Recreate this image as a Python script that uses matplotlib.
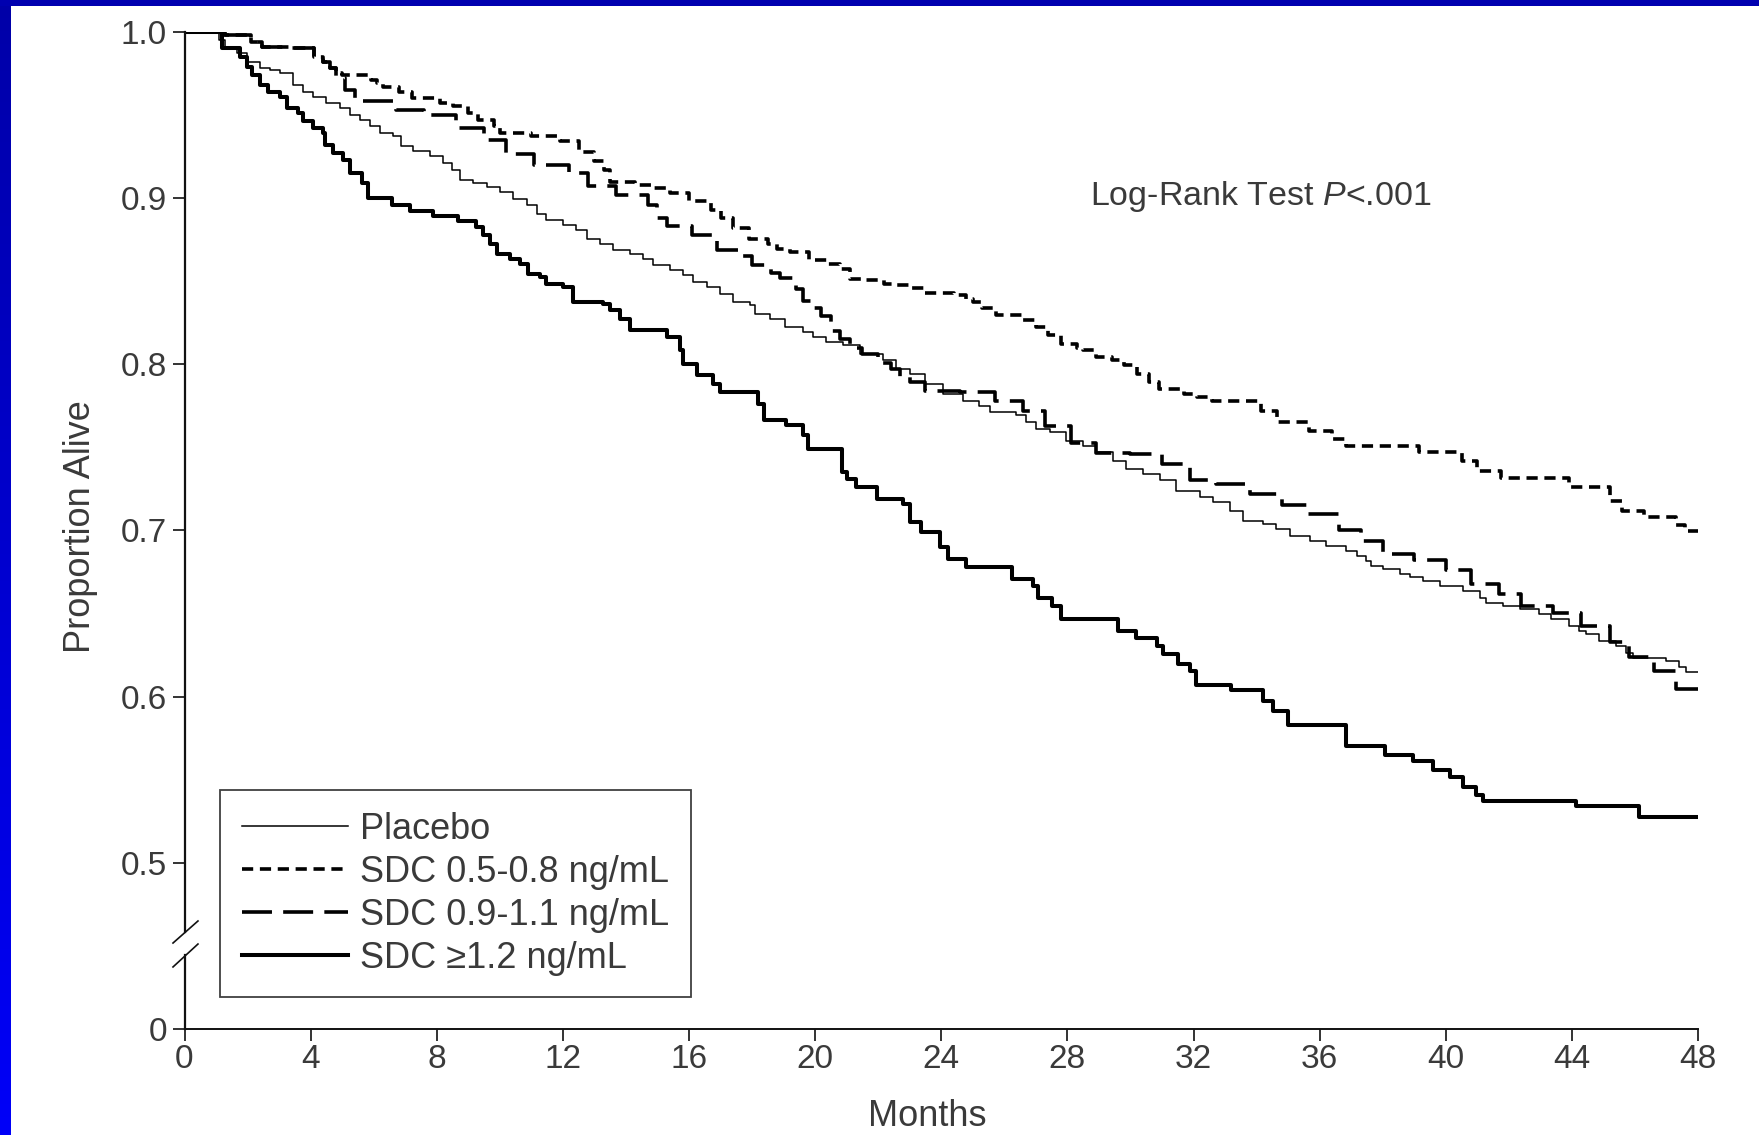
import numpy as np
import matplotlib
matplotlib.use("Agg")
import matplotlib.pyplot as plt
from matplotlib.lines import Line2D
from matplotlib.colors import LinearSegmentedColormap

plt.rcParams['font.family'] = ['Liberation Sans', 'DejaVu Sans']
plt.rcParams['mathtext.fontset'] = 'custom'
plt.rcParams['mathtext.rm'] = 'Liberation Sans'
plt.rcParams['mathtext.it'] = 'Liberation Sans:italic'

# Kaplan-Meier step data: month at which each level starts, proportion alive
placebo_t = [0, 1.1, 1.3, 1.65, 1.97, 2.39, 2.71, 3.03, 3.45, 3.77, 4.08, 4.5, 4.93, 5.25,
             5.56, 5.88, 6.2, 6.62, 6.88, 7.25, 7.78, 8.2, 8.47, 8.74, 9.16, 9.58, 10.0,
             10.43, 10.85, 11.17, 11.48, 12.01, 12.43, 12.75, 13.17, 13.6, 14.13, 14.55,
             14.87, 15.4, 15.82, 16.13, 16.56, 16.98, 17.4, 17.93, 18.09, 18.57, 19.04,
             19.62, 19.94, 20.36, 20.89, 21.42, 22.16, 22.58, 23.0, 23.5, 24.06, 24.7,
             25.2, 25.54, 26.38, 26.7, 27.02, 27.44, 27.97, 28.5, 28.92, 29.45, 29.87,
             30.4, 30.93, 31.46, 32.2, 32.62, 33.15, 33.57, 34.2, 34.63, 35.05, 35.69,
             36.21, 36.85, 37.17, 37.48, 37.64, 38.0, 38.54, 38.86, 39.28, 39.81, 40.55,
             41.08, 41.29, 41.81, 42.34, 42.97, 43.34, 43.92, 44.24, 44.45, 44.87, 45.4,
             45.72, 45.93, 46.99, 47.41, 47.62, 48.0]
placebo_s = [1.0, 0.995, 0.99, 0.987, 0.982, 0.978, 0.977, 0.975, 0.968, 0.964, 0.961, 0.957,
             0.954, 0.95, 0.947, 0.943, 0.939, 0.937, 0.931, 0.928, 0.925, 0.921, 0.9167,
             0.9107, 0.9087, 0.9066, 0.9036, 0.8996, 0.8956, 0.8906, 0.8866, 0.8836, 0.8805,
             0.8755, 0.8725, 0.8685, 0.8665, 0.8635, 0.8595, 0.8565, 0.8534, 0.8494, 0.8464,
             0.8424, 0.8373, 0.8354, 0.8304, 0.8273, 0.8223, 0.8193, 0.8163, 0.8133, 0.8113,
             0.8063, 0.8022, 0.7972, 0.7942, 0.7882, 0.7822, 0.7781, 0.7746, 0.7711, 0.7691,
             0.7651, 0.7611, 0.759, 0.754, 0.751, 0.747, 0.742, 0.737, 0.734, 0.73, 0.7239,
             0.7199, 0.7169, 0.7119, 0.7058, 0.7039, 0.7008, 0.6968, 0.6938, 0.6908, 0.6878,
             0.6848, 0.6817, 0.6787, 0.6767, 0.6737, 0.6717, 0.6697, 0.6667, 0.6637, 0.659,
             0.656, 0.6546, 0.6527, 0.6496, 0.6466, 0.6426, 0.6396, 0.6376, 0.6335, 0.6305,
             0.6265, 0.6235, 0.6215, 0.6175, 0.6145, 0.6145]

low_t = [0, 1.3, 2.1, 2.45, 3.4, 4.1, 4.4, 4.6, 4.8, 5.0, 5.9, 6.1, 6.3, 6.8, 7.2, 8.1, 8.5,
         9.0, 9.3, 9.8, 10.0, 11.0, 11.9, 12.5, 13.0, 13.3, 13.5, 14.3, 14.9, 15.4, 16.0,
         16.7, 17.0, 17.4, 17.9, 18.5, 18.8, 19.2, 19.8, 20.4, 20.8, 21.1, 21.6, 22.2, 22.6,
         23.0, 23.5, 24.4, 24.8, 25.0, 25.3, 25.75, 26.6, 27.0, 27.4, 27.8, 28.3, 28.5, 28.9,
         29.4, 29.8, 30.2, 30.6, 30.9, 31.7, 32.1, 32.6, 34.15, 34.65, 35.65, 36.4, 36.85,
         39.15, 40.5, 41.0, 41.75, 43.9, 45.2, 45.6, 46.3, 47.3, 47.6, 48.0]
low_s = [1.0, 0.998, 0.994, 0.991, 0.99, 0.985, 0.982, 0.978, 0.975, 0.974, 0.971, 0.969,
         0.967, 0.964, 0.96, 0.957, 0.955, 0.951, 0.947, 0.943, 0.9388, 0.937, 0.934, 0.9275,
         0.922, 0.9167, 0.9094, 0.908, 0.906, 0.9028, 0.8982, 0.893, 0.888, 0.882, 0.8755,
         0.872, 0.869, 0.8675, 0.8625, 0.8605, 0.857, 0.8514, 0.8504, 0.8485, 0.8474, 0.846,
         0.8426, 0.8414, 0.839, 0.8373, 0.834, 0.8293, 0.8263, 0.8223, 0.8173, 0.8123, 0.81,
         0.8083, 0.8042, 0.8022, 0.7992, 0.7938, 0.789, 0.7852, 0.7822, 0.7801, 0.7781,
         0.772, 0.765, 0.76, 0.755, 0.751, 0.747, 0.742, 0.736, 0.7316, 0.7259, 0.7179,
         0.7119, 0.7078, 0.703, 0.6994, 0.6994]

mid_t = [0, 1.3, 2.1, 2.45, 3.4, 4.1, 4.4, 4.6, 4.8, 5.1, 5.4, 6.7, 7.6, 8.6, 9.5, 10.2,
         11.1, 12.2, 12.8, 13.7, 14.7, 15.0, 15.3, 16.1, 16.9, 17.6, 18.0, 18.6, 18.9, 19.4,
         19.6, 19.9, 20.2, 20.5, 20.8, 21.1, 21.5, 22.0, 22.4, 22.7, 23.0, 23.5, 24.6, 25.7,
         26.6, 27.3, 28.1, 28.9, 30.0, 31.0, 31.9, 32.7, 33.8, 34.8, 35.6, 36.6, 37.3, 38.0,
         39.0, 40.0, 40.8, 41.7, 42.4, 43.4, 44.3, 45.2, 45.8, 46.6, 47.3, 48.0]
mid_s = [1.0, 0.998, 0.994, 0.991, 0.99, 0.985, 0.982, 0.978, 0.972, 0.965, 0.9585, 0.953,
         0.95, 0.942, 0.935, 0.9267, 0.9197, 0.915, 0.907, 0.902, 0.896, 0.888, 0.883,
         0.8775, 0.8685, 0.865, 0.8595, 0.855, 0.8516, 0.845, 0.838, 0.834, 0.829, 0.82,
         0.815, 0.81, 0.806, 0.8004, 0.797, 0.792, 0.789, 0.7841, 0.7831, 0.7781, 0.772,
         0.763, 0.7528, 0.7468, 0.746, 0.7402, 0.73, 0.728, 0.7219, 0.715, 0.7099, 0.7,
         0.6938, 0.686, 0.682, 0.676, 0.668, 0.662, 0.6546, 0.6504, 0.6426, 0.633, 0.6239,
         0.6155, 0.6047, 0.6047]

high_t = [0, 1.18, 1.76, 1.97, 2.13, 2.39, 2.66, 3.03, 3.24, 3.61, 3.77, 4.08, 4.4, 4.45,
          4.72, 5.04, 5.25, 5.62, 5.83, 6.57, 7.15, 7.89, 8.68, 9.26, 9.47, 9.69, 9.9, 10.32,
          10.64, 10.9, 11.27, 11.48, 12.01, 12.33, 13.28, 13.49, 13.81, 14.13, 15.29, 15.71,
          15.82, 16.24, 16.77, 16.98, 18.2, 18.37, 19.09, 19.62, 19.78, 20.84, 21.0, 21.31,
          21.95, 22.79, 23.0, 23.37, 23.95, 24.22, 24.8, 26.23, 26.92, 27.07, 27.5, 27.81,
          29.61, 30.19, 30.83, 31.04, 31.51, 31.88, 32.09, 33.2, 34.2, 34.52, 35.0, 36.85,
          38.06, 38.96, 39.6, 40.12, 40.55, 40.97, 41.18, 44.13, 46.14, 48.0]
high_s = [1.0, 0.99, 0.985, 0.979, 0.974, 0.968, 0.964, 0.961, 0.954, 0.951, 0.946, 0.942,
          0.939, 0.932, 0.927, 0.923, 0.915, 0.909, 0.9, 0.896, 0.892, 0.889, 0.886, 0.8825,
          0.8775, 0.8725, 0.8665, 0.8635, 0.8605, 0.8545, 0.8524, 0.8484, 0.8464, 0.8373,
          0.8364, 0.8323, 0.8273, 0.8203, 0.8163, 0.8083, 0.8002, 0.7932, 0.7882, 0.7831,
          0.7761, 0.7661, 0.7631, 0.7571, 0.749, 0.735, 0.731, 0.7259, 0.7189, 0.7159,
          0.7048, 0.6988, 0.6898, 0.6828, 0.6777, 0.6707, 0.6667, 0.6596, 0.6546, 0.6466,
          0.6396, 0.6355, 0.6306, 0.6255, 0.6195, 0.6155, 0.607, 0.604, 0.5974, 0.5914,
          0.583, 0.57, 0.565, 0.561, 0.556, 0.5515, 0.5455, 0.5405, 0.537, 0.534, 0.5275,
          0.5275]

series_labels = ["Placebo", "SDC 0.5-0.8 ng/mL", "SDC 0.9-1.1 ng/mL", "SDC \u22651.2 ng/mL"]
x_ticks = list(range(0, 49, 4))
y_ticks = [0, 0.5, 0.6, 0.7, 0.8, 0.9, 1.0]
y_tick_labels = ["0", "0.5", "0.6", "0.7", "0.8", "0.9", "1.0"]

W, H = 1759, 1135
fig = plt.figure(figsize=(W / 100, H / 100), dpi=100)
fig.patch.set_facecolor("white")

# blue frame: left gradient strip and top strip
left_strip = fig.add_axes([0, 0, 11 / W, 1])
grad = np.linspace(0, 1, 256).reshape(-1, 1)
cmap = LinearSegmentedColormap.from_list("frame", ["#0000a8", "#0000f8"])
left_strip.imshow(grad, aspect="auto", cmap=cmap, origin="upper", extent=[0, 1, 0, 1])
left_strip.set_axis_off()
top_strip = fig.add_axes([0, 1 - 6 / H, 1, 6 / H])
top_strip.set_facecolor("#0000b0")
top_strip.set_xticks([]); top_strip.set_yticks([])
for s in top_strip.spines.values():
    s.set_visible(False)

ax_left, ax_right = 184.5 / W, 1698 / W
ax_bottom, ax_top = 1 - 1029 / H, 1 - 31.7 / H
ax = fig.add_axes([ax_left, ax_bottom, ax_right - ax_left, ax_top - ax_bottom])


# broken y axis: 0.5-1.0 linear, 0-0.5 compressed into one tenth
def fwd(y):
    y = np.asarray(y, dtype=float)
    return np.where(y >= 0.5, y, 0.4 + 0.2 * y)


def inv(z):
    z = np.asarray(z, dtype=float)
    return np.where(z >= 0.5, z, (z - 0.4) / 0.2)


ax.set_yscale("function", functions=(fwd, inv))

ink = "black"
ax.step(placebo_t, placebo_s, where="post", color=ink, lw=1.1, label=series_labels[0])
ax.step(low_t, low_s, where="post", color=ink, lw=2.6, dashes=(3.1, 1.85),
        label=series_labels[1])
ax.step(mid_t, mid_s, where="post", color=ink, lw=2.6, dashes=(8.3, 3.1),
        label=series_labels[2])
ax.step(high_t, high_s, where="post", color=ink, lw=2.9, label=series_labels[3])

ax.set_xlim(0, 48)
ax.set_ylim(0, 1.0)
ax.set_xticks(x_ticks)
ax.set_xticklabels([str(v) for v in x_ticks])
ax.set_yticks(y_ticks)
ax.set_yticklabels(y_tick_labels)
ax.tick_params(axis="both", direction="out", length=8.6, width=1.2, color="#111111",
               labelsize=24, labelcolor="#3a3a3a")
ax.tick_params(axis="y", pad=4)
ax.tick_params(axis="x", pad=2)

for side in ("top", "right", "left"):
    ax.spines[side].set_visible(False)
ax.spines["bottom"].set_color("#111111")
ax.spines["bottom"].set_linewidth(1.4)

# left axis line with a break between the two slashes
ytr = ax.transAxes
ax.add_line(Line2D([0, 0], [0, 0.0742], transform=ytr, color="#111111", lw=1.6, clip_on=False))
ax.add_line(Line2D([0, 0], [0.0973, 1.0], transform=ytr, color="#111111", lw=1.6,
                   clip_on=False))
ax.add_line(Line2D([-0.0076, 0.0089], [0.0862, 0.1083], transform=ytr, color="#111111",
                   lw=1.2, clip_on=False))
ax.add_line(Line2D([-0.0076, 0.0089], [0.0622, 0.0852], transform=ytr, color="#111111",
                   lw=1.2, clip_on=False))

fig.text(80 / W, 1 - 527 / H, "Proportion Alive", rotation=90, ha="center",
         va="center", fontsize=26, color="#3a3a3a")
fig.text(927 / W, 1 - 1117 / H, "Months", ha="center", va="center", fontsize=26,
         color="#3a3a3a")
fig.text(1261 / W, 1 - 196 / H, r"Log-Rank Test $\mathit{P}$<.001", ha="center",
         va="center", fontsize=24.5, color="#3a3a3a")

leg = ax.legend(loc="upper left", bbox_to_anchor=((220 - 184.5) / 1513.5, (1029 - 790) / 997.3),
                frameon=True, fancybox=False, fontsize=26, handlelength=2.95,
                handletextpad=0.33, borderpad=0.6, labelspacing=0.22, borderaxespad=0)
leg.get_frame().set_edgecolor("#111111")
leg.get_frame().set_linewidth(1.3)
for t in leg.get_texts():
    t.set_color("#3a3a3a")

fig.savefig("out.png", dpi=100, facecolor="white")
